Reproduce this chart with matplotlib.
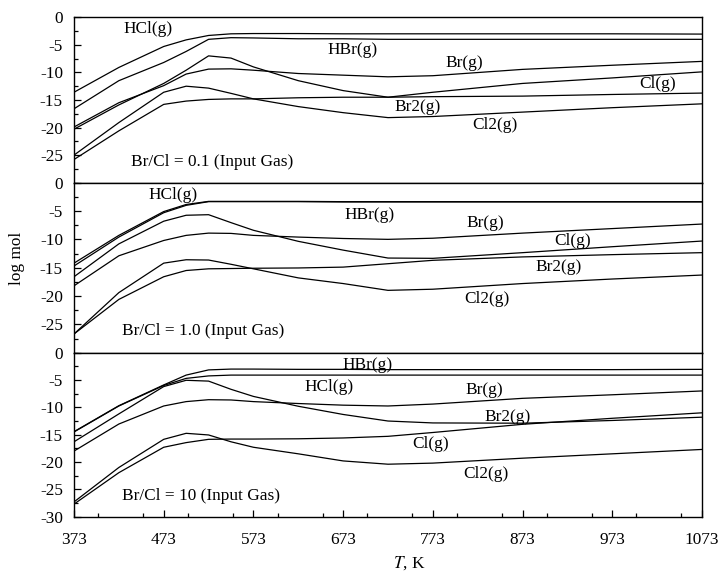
import matplotlib
matplotlib.use('Agg')
import matplotlib.pyplot as plt
from matplotlib.ticker import MultipleLocator

# temperatures (K)
T = [373, 423, 473, 498, 523, 548, 573, 623, 673, 723, 773, 873, 973, 1073]

# Br/Cl = 0.1
hcl_1 = [-13.6, -9.1, -5.3, -4.1, -3.3, -3.0, -2.95, -2.95, -3.0, -3.0, -3.0, -3.0, -3.0, -3.05]
hbr_1 = [-16.6, -11.5, -8.2, -6.2, -4.0, -3.7, -3.75, -3.9, -3.9, -4.0, -4.0, -4.0, -4.0, -4.0]
br_1 = [-19.9, -15.5, -12.4, -10.3, -9.4, -9.35, -9.6, -10.2, -10.5, -10.8, -10.6, -9.45, -8.7, -8.0]
cl_1 = [-20.3, -15.9, -12.0, -9.6, -7.0, -7.4, -9.0, -11.5, -13.3, -14.5, -13.6, -12.0, -11.0, -9.9]
br2_1 = [-25.8, -20.6, -15.8, -15.2, -14.9, -14.8, -14.8, -14.6, -14.5, -14.5, -14.4, -14.3, -14.0, -13.75]
cl2_1 = [-25.0, -19.1, -13.6, -12.5, -12.85, -13.8, -14.8, -16.2, -17.3, -18.2, -18.0, -17.2, -16.4, -15.7]

# Br/Cl = 1.0
hcl_2 = [-14.2, -9.3, -5.1, -3.85, -3.3, -3.3, -3.3, -3.3, -3.35, -3.35, -3.35, -3.35, -3.35, -3.35]
hbr_2 = [-14.7, -9.6, -5.3, -4.0, -3.35, -3.35, -3.35, -3.35, -3.4, -3.4, -3.4, -3.4, -3.4, -3.4]
br_2 = [-18.2, -12.9, -10.2, -9.3, -8.9, -8.95, -9.3, -9.6, -9.85, -10.0, -9.8, -8.9, -8.1, -7.3]
cl_2 = [-16.6, -10.8, -6.8, -5.75, -5.65, -7.05, -8.4, -10.35, -11.9, -13.3, -13.35, -12.35, -11.3, -10.3]
br2_2 = [-26.7, -20.6, -16.6, -15.5, -15.2, -15.15, -15.1, -15.05, -14.9, -14.3, -13.7, -13.1, -12.7, -12.35]
cl2_2 = [-26.7, -19.4, -14.2, -13.6, -13.65, -14.4, -15.2, -16.8, -17.8, -19.0, -18.8, -17.8, -17.0, -16.3]

# Br/Cl = 10
hcl_3 = [-14.5, -9.75, -6.0, -4.7, -4.25, -4.1, -4.1, -4.1, -4.1, -4.1, -4.1, -4.1, -4.1, -4.1]
hbr_3 = [-14.45, -9.7, -5.9, -4.1, -3.15, -3.0, -3.0, -3.05, -3.05, -3.1, -3.1, -3.1, -3.1, -3.05]
br_3 = [-18.0, -13.05, -9.75, -8.95, -8.6, -8.65, -8.95, -9.3, -9.6, -9.75, -9.4, -8.35, -7.7, -7.0]
cl_3 = [-16.3, -11.2, -6.2, -5.05, -5.2, -6.7, -8.0, -9.8, -11.3, -12.5, -12.85, -12.9, -12.4, -11.8]
br2_3 = [-27.7, -21.95, -17.3, -16.45, -15.85, -15.8, -15.8, -15.75, -15.6, -15.3, -14.6, -13.1, -12.0, -11.0]
cl2_3 = [-27.3, -21.0, -15.85, -14.75, -15.05, -16.3, -17.3, -18.5, -19.8, -20.4, -20.2, -19.3, -18.5, -17.7]

panels = [
    ([hcl_1, hbr_1, br_1, cl_1, br2_1, cl2_1], 'Br/Cl = 0.1 (Input Gas)',
     [('HCl(g)', 455, -2.2), ('HBr(g)', 683, -6.0), ('Br(g)', 808, -8.3),
      ('Cl(g)', 1023, -12.1), ('Br2(g)', 756, -16.3), ('Cl2(g)', 842, -19.6)]),
    ([hcl_2, hbr_2, br_2, cl_2, br2_2, cl2_2], 'Br/Cl = 1.0 (Input Gas)',
     [('HCl(g)', 483, -2.2), ('HBr(g)', 702, -5.65), ('Br(g)', 831, -7.2),
      ('Cl(g)', 929, -10.3), ('Br2(g)', 913, -14.9), ('Cl2(g)', 833, -20.5)]),
    ([hcl_3, hbr_3, br_3, cl_3, br2_3, cl2_3], 'Br/Cl = 10 (Input Gas)',
     [('HBr(g)', 700, -2.25), ('HCl(g)', 657, -6.2), ('Br(g)', 830, -6.8),
      ('Br2(g)', 856, -11.8), ('Cl(g)', 771, -16.7), ('Cl2(g)', 832, -22.2)]),
]

plt.rcParams['font.family'] = ['Liberation Serif', 'DejaVu Serif']
plt.rcParams['font.size'] = 12.4
plt.rcParams['axes.unicode_minus'] = False
plt.rcParams['mathtext.fontset'] = 'stix'

fig = plt.figure(figsize=(7.24, 5.72), dpi=100)
gs = fig.add_gridspec(3, 1, left=0.1022, right=0.9696, top=0.9698, bottom=0.0967,
                      hspace=0, height_ratios=[165.4, 170, 164])

for i, (series, note, labels) in enumerate(panels):
    ax = fig.add_subplot(gs[i])
    for s in series:
        ax.plot(T, s, color='black', linewidth=0.9)
    ax.set_xlim(373, 1073)
    ax.set_ylim(-30, 0)
    last = i == 2
    ax.set_yticks([0, -5, -10, -15, -20, -25, -30] if last else [0, -5, -10, -15, -20, -25])
    ax.yaxis.set_minor_locator(MultipleLocator(2.5))
    ax.set_xticks([373, 473, 573, 673, 773, 873, 973, 1073])
    ax.xaxis.set_minor_locator(MultipleLocator(50))
    ax.tick_params(which='both', direction='in', right=False, top=False)
    ax.tick_params(which='major', length=5, width=0.9)
    ax.tick_params(which='minor', length=3, width=0.9)
    ax.tick_params(axis='y', pad=8)
    ax.tick_params(axis='x', pad=11)
    if not last:
        ax.tick_params(axis='x', which='both', bottom=False, labelbottom=False)
    for sp in ax.spines.values():
        sp.set_linewidth(1.0)
    for text, x, y in labels:
        ax.text(x, y, text, ha='center', va='center')
    ax.text(427 if i else 437, -26.2, note, ha='left', va='center')

fig.text(17 / 724, 1 - 258 / 572, 'log mol', rotation=90, ha='center', va='center')
fig.text(409 / 724, 1 - 563 / 572, r'$\mathit{T}$, K', ha='center', va='center')

fig.savefig('out.png', dpi=100, facecolor='white')
